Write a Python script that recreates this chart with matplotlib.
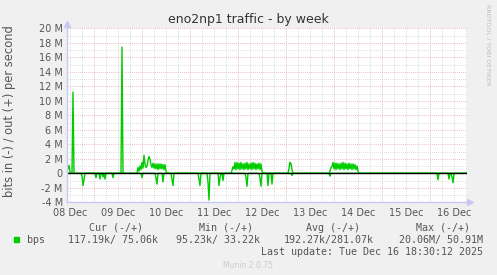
import numpy as np
import matplotlib
matplotlib.use("Agg")
import matplotlib.pyplot as plt

# ---------------- data (hours since 08 Dec 00:00, values in Mbit/s) ----------------
start_h = 10.5          # graph start: 08 Dec 10:30
end_h = 210.5           # graph end:   16 Dec 18:30
step_h = 0.5            # 30 min resolution

out_hours = [10.5, 11.0, 11.5, 12.0, 13.5, 38.0,
             46.0, 46.5, 47.0, 47.5, 48.0, 48.5, 49.0, 49.5, 50.0, 50.5, 51.0, 51.5, 52.0, 52.5,
             53.0, 53.5, 54.0, 54.5, 55.0, 55.5, 56.0, 56.5, 57.0, 57.5, 58.0, 58.5, 59.0, 59.5, 60.0,
             93.0, 93.5, 94.0, 94.5, 95.0, 95.5, 96.0, 96.5, 97.0, 97.5, 98.0, 98.5, 99.0, 99.5,
             100.0, 100.5, 101.0, 101.5, 102.0, 102.5, 103.0, 103.5, 104.0, 104.5, 105.0, 105.5,
             106.0, 106.5, 107.0, 107.5, 108.0,
             121.5, 122.0, 122.5, 123.0,
             142.0, 142.5, 143.0, 143.5, 144.0, 144.5, 145.0, 145.5, 146.0, 146.5, 147.0, 147.5,
             148.0, 148.5, 149.0, 149.5, 150.0, 150.5, 151.0, 151.5, 152.0, 152.5, 153.0, 153.5,
             154.0, 154.5, 155.0, 155.5, 156.0]
out_vals = [1.2, 0.6, 1.1, 0.2, 11.2, 17.4,
            0.8, 0.3, 1.0, 0.5, 1.5, 0.7, 2.5, 1.2, 0.8, 1.0, 1.8, 2.3, 1.9, 1.2,
            0.8, 1.4, 0.7, 1.3, 0.6, 1.3, 0.5, 1.3, 0.6, 1.3, 0.6, 1.2, 0.5, 1.2, 0.3,
            0.4, 0.9, 0.6, 1.5, 0.5, 1.5, 0.6, 1.4, 0.5, 1.5, 0.6, 1.3, 0.5, 1.4,
            0.6, 1.5, 0.5, 1.3, 0.6, 1.4, 0.5, 1.5, 0.6, 1.4, 0.5, 1.3,
            0.6, 1.4, 0.5, 1.3, 0.3,
            0.7, 1.5, 1.3, 0.5,
            0.3, 0.8, 0.9, 1.5, 0.6, 1.4, 0.5, 1.4, 0.6, 1.3, 0.5, 1.4,
            0.6, 1.5, 0.5, 1.4, 0.6, 1.3, 0.5, 1.4, 0.6, 1.3, 0.5, 1.3,
            0.6, 1.2, 0.5, 1.0, 0.3]

in_hours = [18.0, 18.5, 19.0, 25.0, 27.0, 28.5, 29.5, 33.5,
            48.0, 55.0, 55.5, 58.5, 63.0, 63.5,
            76.5, 77.0, 81.0, 81.5, 86.5, 87.0, 88.5,
            100.0, 100.5, 107.0, 107.5, 111.0, 113.0,
            123.0, 142.0, 196.0, 201.5, 203.0, 203.5]
in_vals = [0.4, 1.7, 0.8, 0.6, 0.8, 0.5, 0.8, 0.6,
           0.6, 0.7, 1.5, 1.2, 0.8, 1.7,
           0.8, 1.7, 1.2, 3.7, 1.7, 0.6, 1.0,
           0.6, 1.8, 0.7, 1.8, 1.7, 1.5,
           0.3, 0.4, 0.9, 0.8, 0.5, 1.3]

y_ticks = [-4, -2, 0, 2, 4, 6, 8, 10, 12, 14, 16, 18, 20]
day_labels = ["08 Dec", "09 Dec", "10 Dec", "11 Dec", "12 Dec", "13 Dec", "14 Dec", "15 Dec", "16 Dec"]

legend_header = ["Cur (-/+)", "Min (-/+)", "Avg (-/+)", "Max (-/+)"]
legend_values = ["117.19k/ 75.06k", "95.23k/ 33.22k", "192.27k/281.07k", "20.06M/ 50.91M"]
series_name = "bps"
title = "eno2np1 traffic - by week"
ylabel = "bits in (-) / out (+) per second"
last_update = "Last update: Tue Dec 16 18:30:12 2025"

# ---------------- build series ----------------
t = np.arange(start_h, end_h + step_h / 2, step_h)
out_s = np.zeros_like(t)
in_s = np.zeros_like(t)
for h, v in zip(out_hours, out_vals):
    out_s[int(round((h - start_h) / step_h))] = v
for h, v in zip(in_hours, in_vals):
    in_s[int(round((h - start_h) / step_h))] = v

W, H = 497, 275
fig = plt.figure(figsize=(W / 100, H / 100), dpi=100, facecolor="#F0F0F0")

def fx(px):
    return px / W

def fy(py):
    return 1 - py / H

left, right, top, bottom = 67, 467, 28.3, 202.3
ax = fig.add_axes([fx(left), fy(bottom), fx(right) - fx(left), fy(top) - fy(bottom)])
ax.set_facecolor("white")
ax.set_xlim(start_h, end_h)
ax.set_ylim(-4, 20)

for s in ax.spines.values():
    s.set_visible(False)

# grids
for x in np.arange(12, end_h, 6):
    if x % 24 != 0:
        ax.axvline(x, color="#cfcfcf", lw=0.6, ls=(0, (1, 1.5)), zorder=0)
for x in np.arange(24, end_h, 24):
    ax.axvline(x, color="#e8a8a8", lw=0.6, ls=(0, (1, 1.5)), zorder=0)
for y in range(-3, 20, 2):
    ax.axhline(y, color="#cfcfcf", lw=0.6, ls=(0, (1, 1.5)), zorder=0)
for y in y_ticks:
    ax.axhline(y, color="#e8a8a8", lw=0.6, ls=(0, (1, 1.5)), zorder=0)

# data
green = "#00CC00"
ax.plot(t, out_s, color=green, lw=1.0, zorder=3)
ax.plot(t, -in_s, color=green, lw=1.0, zorder=3)
ax.axhline(0, color="black", lw=1.0, zorder=4)

# axis lines with arrows
axis_col = "#C8C8F0"
ax.plot([start_h, start_h], [-4, 20.6], color=axis_col, lw=1.0, clip_on=False, zorder=5)
ax.plot([start_h, end_h + 1.5], [-4, -4], color=axis_col, lw=1.0, clip_on=False, zorder=5)
ax.plot([end_h + 1.5], [-4], marker=">", color=axis_col, ms=5, clip_on=False, zorder=5)
ax.plot([start_h], [20.6], marker="^", color=axis_col, ms=5, clip_on=False, zorder=5)

# ticks
ax.set_yticks(y_ticks)
ax.set_yticklabels([("%d M" % v) if v != 0 else "0" for v in y_ticks])
ax.set_xticks([12 + 24 * i for i in range(len(day_labels))])
ax.set_xticklabels(day_labels)
ax.tick_params(axis="both", length=0, labelsize=7, colors="#555555", pad=3)
ax.tick_params(axis="x", pad=4)

# texts
fig.text(fx(248), fy(19), title, ha="center", va="center", fontsize=9, color="#333333")
fig.text(fx(10), fy(111), ylabel, rotation=90, ha="center", va="center", fontsize=8.3, color="#555555")
fig.text(fx(488), fy(4), "RRDTOOL / TOBI OETIKER", rotation=270, ha="center", va="top",
         fontsize=4.6, color="#BBBBBB")

mono = "DejaVu Sans Mono"
hdr_x = [116, 226, 333, 443]
for x, s in zip(hdr_x, legend_header):
    fig.text(fx(x), fy(228), s, ha="center", va="center", fontsize=7.2, family=mono, color="#555555")
fig.add_artist(plt.Rectangle((fx(14), fy(242)), fx(5), fy(237) - fy(242), color=green,
                             transform=fig.transFigure))
fig.text(fx(27), fy(240), series_name, ha="left", va="center", fontsize=7.2, family=mono, color="#555555")
val_right = [158, 260, 374, 483]
for x, s in zip(val_right, legend_values):
    fig.text(fx(x), fy(240), s, ha="right", va="center", fontsize=7.2, family=mono, color="#555555")
fig.text(fx(483), fy(252), last_update, ha="right", va="center", fontsize=7.2, family=mono, color="#555555")
fig.text(fx(248), fy(265), "Munin 2.0.75", ha="center", va="center", fontsize=5.5, color="#CCCCCC")

fig.savefig("out.png", dpi=100, facecolor=fig.get_facecolor())
